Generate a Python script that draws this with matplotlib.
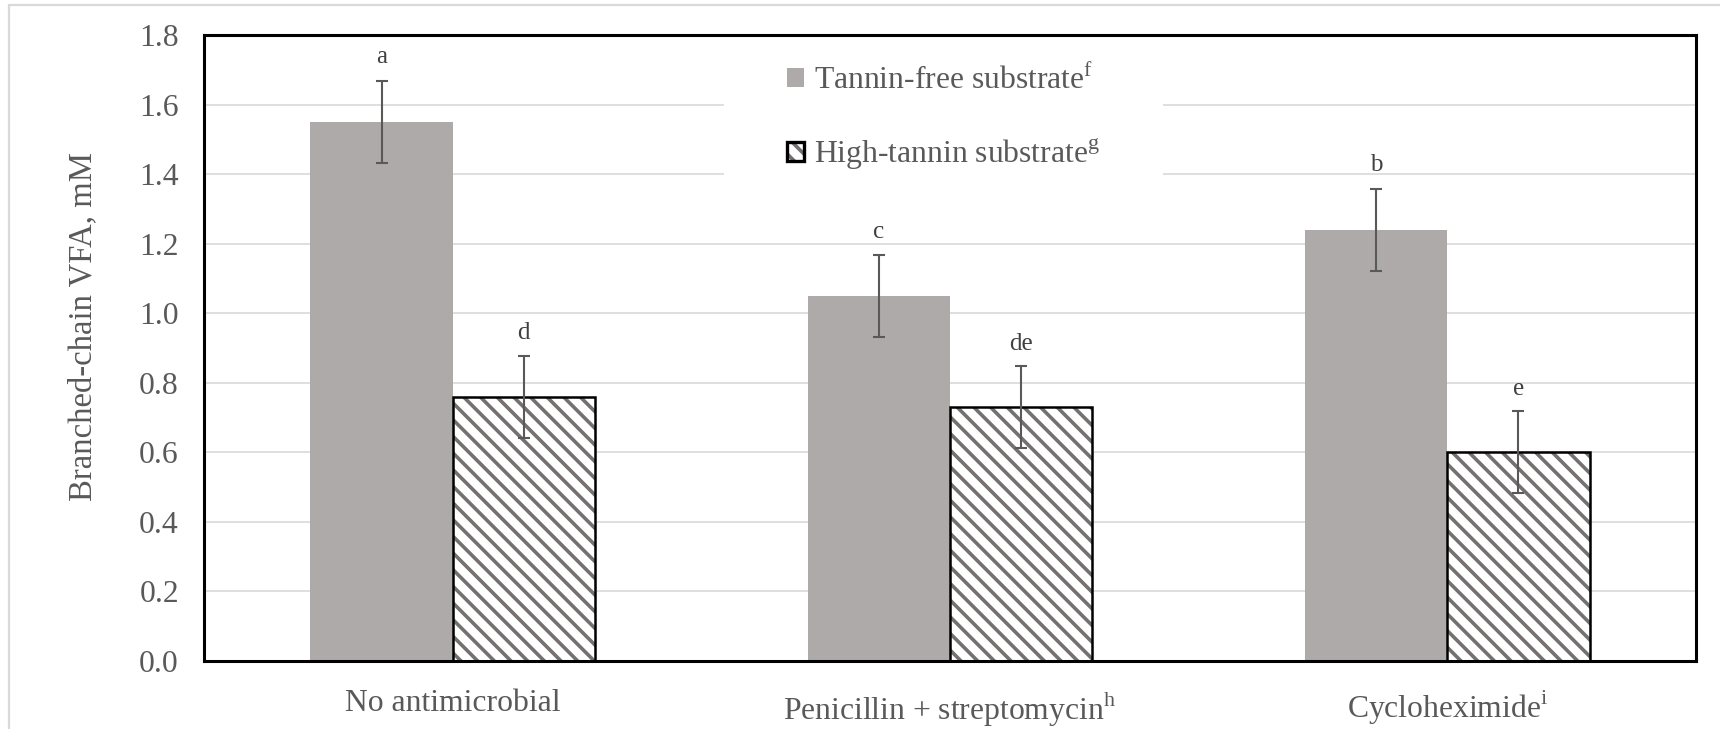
import numpy as np
import matplotlib
matplotlib.use("Agg")
import matplotlib.pyplot as plt
from matplotlib.patches import Patch, Rectangle
from matplotlib.legend_handler import HandlerTuple

# data
groups = ["No antimicrobial", "Penicillin + streptomycin$^{\\mathregular{h}}$",
          "Cycloheximide$^{\\mathregular{i}}$"]
tannin_free = [1.55, 1.05, 1.24]
tannin_free_se = [0.118, 0.117, 0.118]
high_tannin = [0.76, 0.73, 0.60]
high_tannin_se = [0.118, 0.117, 0.118]
tf_letters = ["a", "c", "b"]
ht_letters = ["d", "de", "e"]
series_names = ["Tannin-free substrate$^{\\mathregular{f}}$",
                "High-tannin substrate$^{\\mathregular{g}}$"]

plt.rcParams["font.family"] = ["Liberation Serif", "DejaVu Serif"]
plt.rcParams["mathtext.fontset"] = "custom"
plt.rcParams["mathtext.rm"] = "Liberation Serif"
plt.rcParams["hatch.linewidth"] = 1.3

text_col = "#595959"
gray_bar = "#AEAAAA"
hatch_col = "#767171"
hatch = "\\\\\\\\"
fs = 11.4

fig = plt.figure(figsize=(8.6, 3.645), dpi=200)
ax = fig.add_axes([204 / 1720, 1 - 661 / 729, 1492 / 1720, 626 / 729])

# outer chart-area border
fig.patches.append(Rectangle((9 / 1720, -0.1), 1.2, 1.1 - 5.5 / 729,
                             transform=fig.transFigure, fill=False,
                             edgecolor="#D9D9D9", lw=0.8, clip_on=False))

x = np.arange(len(groups))
w = 0.286

ax.bar(x - w / 2, tannin_free, w, color=gray_bar, zorder=2)
ax.bar(x + w / 2, high_tannin, w, color="white", edgecolor=hatch_col,
       hatch=hatch, lw=0, zorder=2)
ax.bar(x + w / 2, high_tannin, w, fill=False, edgecolor="black", lw=0.9, zorder=3)

ax.errorbar(x - w / 2, tannin_free, yerr=tannin_free_se, fmt="none",
            ecolor="#595959", elinewidth=0.75, capsize=2.2, capthick=0.75, zorder=4)
ax.errorbar(x + w / 2, high_tannin, yerr=high_tannin_se, fmt="none",
            ecolor="#595959", elinewidth=0.75, capsize=2.2, capthick=0.75, zorder=4)

for i in range(len(groups)):
    ax.annotate(tf_letters[i], (x[i] - w / 2, tannin_free[i] + tannin_free_se[i]),
                xytext=(0, 8.5), textcoords="offset points", ha="center",
                va="center", fontsize=9, color="#404040")
    ax.annotate(ht_letters[i], (x[i] + w / 2, high_tannin[i] + high_tannin_se[i]),
                xytext=(0, 8), textcoords="offset points", ha="center",
                va="center", fontsize=9, color="#404040")

ax.set_xlim(-0.5, 2.5)
ax.set_ylim(0, 1.8)
ax.set_yticks(np.arange(0, 1.81, 0.2))
ax.set_yticklabels([f"{v:.1f}" for v in np.arange(0, 1.81, 0.2)])
ax.set_xticks(x)
ax.set_xticklabels(groups)
ax.tick_params(length=0, labelsize=fs, labelcolor=text_col)
ax.tick_params(axis="y", pad=9)
ax.tick_params(axis="x", pad=10)
ax.set_ylabel("Branched-chain VFA, mM", fontsize=11.8, color=text_col)
ax.yaxis.set_label_coords(-0.071, 0.535)

ax.yaxis.grid(True, color="#D9D9D9", lw=0.6, zorder=0)
ax.set_axisbelow(True)
for s in ax.spines.values():
    s.set_color("black")
    s.set_linewidth(1.1)

# white block behind the legend, hides the grid lines
ax.add_patch(Rectangle(((724 - 204) / 1492, 1 - (181 - 35) / 626),
                       (1163 - 724) / 1492, (181 - 38) / 626,
                       transform=ax.transAxes, facecolor="white",
                       edgecolor="none", zorder=1))

h1 = Patch(facecolor=gray_bar, edgecolor="none")
h2 = (Patch(facecolor="white", edgecolor=hatch_col, hatch=hatch, lw=0),
      Patch(fill=False, edgecolor="black", lw=1.2))
leg = ax.legend([h1, h2], series_names,
                handler_map={tuple: HandlerTuple(ndivide=1, pad=0)},
                loc="upper left", bbox_to_anchor=((768 - 204) / 1492, 1 - (44 - 35) / 626),
                frameon=False, fontsize=fs, handlelength=0.55, handleheight=0.55,
                handletextpad=0.3, labelspacing=1.29, borderpad=0.6, borderaxespad=0)
for t in leg.get_texts():
    t.set_color(text_col)

fig.savefig("out.png", dpi=200)
